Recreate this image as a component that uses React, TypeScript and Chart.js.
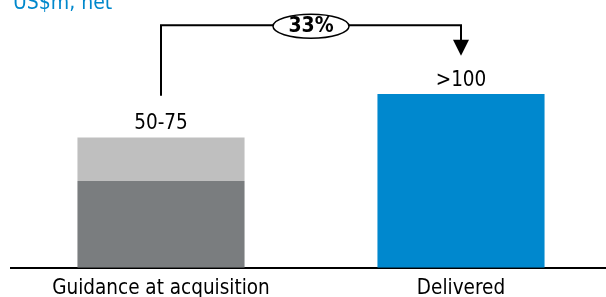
import React, { useEffect, useRef } from "react";
import { Chart, registerables } from "chart.js";

Chart.register(...registerables);

// ---- data ----
const categories = ["Guidance at acquisition", "Delivered"];
const baseValues = [50, 100];
const rangeValues = [25, 0];
const valueLabels = ["50-75", ">100"];
const changeLabel = "33%";
const titleText = "US$m, net";

// connector levels (in data units of the y scale)
const connectorLevel = 139.5;
const connectorStartLevel = 99;
const arrowTipLevel = 122;

const FONT = "'DejaVu Sans Condensed', 'DejaVu Sans', Verdana, sans-serif";
const BLUE = "#0088CE";
const DARK_GREY = "#7A7D7F";
const LIGHT_GREY = "#BFBFBF";

const overlayPlugin = {
  id: "overlay",
  afterDraw(chart: any) {
    const { ctx } = chart;
    const xs = chart.scales.x;
    const ys = chart.scales.y;
    ctx.save();

    // title
    ctx.fillStyle = "#0088CC";
    ctx.font = `21px ${FONT}`;
    ctx.textAlign = "left";
    ctx.textBaseline = "alphabetic";
    ctx.fillText(titleText, 13, 9);

    // value labels
    ctx.fillStyle = "#000";
    ctx.font = `20.5px ${FONT}`;
    ctx.textAlign = "center";
    for (let i = 0; i < categories.length; i++) {
      const total = baseValues[i] + rangeValues[i];
      const x = xs.getPixelForValue(i);
      const y = ys.getPixelForValue(total);
      ctx.fillText(valueLabels[i], x, y - 8);
    }

    // connector
    const x0 = xs.getPixelForValue(0);
    const x1 = xs.getPixelForValue(1);
    const yTop = ys.getPixelForValue(connectorLevel);
    const yStart = ys.getPixelForValue(connectorStartLevel);
    const yTip = ys.getPixelForValue(arrowTipLevel);
    const headH = 16;
    const headW = 8;
    ctx.strokeStyle = "#000";
    ctx.lineWidth = 2;
    ctx.beginPath();
    ctx.moveTo(x0, yStart);
    ctx.lineTo(x0, yTop);
    ctx.lineTo(x1, yTop);
    ctx.lineTo(x1, yTip - headH + 1);
    ctx.stroke();
    ctx.fillStyle = "#000";
    ctx.beginPath();
    ctx.moveTo(x1 - headW, yTip - headH);
    ctx.lineTo(x1 + headW, yTip - headH);
    ctx.lineTo(x1, yTip);
    ctx.closePath();
    ctx.fill();

    // ellipse with percentage
    const cx = (x0 + x1) / 2;
    ctx.beginPath();
    ctx.ellipse(cx, yTop + 1, 38, 12, 0, 0, Math.PI * 2);
    ctx.fillStyle = "#fff";
    ctx.fill();
    ctx.lineWidth = 1.5;
    ctx.stroke();
    ctx.fillStyle = "#000";
    ctx.font = `bold 21px ${FONT}`;
    ctx.textAlign = "center";
    ctx.textBaseline = "middle";
    ctx.fillText(changeLabel, cx, yTop + 1);

    ctx.restore();
  },
};

export default function App() {
  const ref = useRef<HTMLCanvasElement | null>(null);

  useEffect(() => {
    document.body.style.margin = "0";
    document.body.style.overflow = "hidden";
    if (!ref.current) return;
    const chart = new Chart(ref.current, {
      type: "bar",
      data: {
        labels: categories,
        datasets: [
          {
            label: "Base",
            data: baseValues,
            backgroundColor: [DARK_GREY, BLUE],
            borderWidth: 0,
            barPercentage: 0.557,
            categoryPercentage: 1,
          },
          {
            label: "Range",
            data: rangeValues,
            backgroundColor: LIGHT_GREY,
            borderWidth: 0,
            barPercentage: 0.557,
            categoryPercentage: 1,
          },
        ],
      },
      options: {
        responsive: false,
        animation: false,
        devicePixelRatio: 1,
        layout: { padding: { left: 11, right: 1, top: 0, bottom: 0 } },
        plugins: {
          legend: { display: false },
          tooltip: { enabled: false },
          title: { display: false },
        },
        scales: {
          x: {
            stacked: true,
            grid: { display: false, drawTicks: false },
            border: { display: true, color: "#000", width: 2 },
            ticks: {
              color: "#000",
              font: { family: FONT, size: 20.5, lineHeight: 1.08 },
              padding: 10,
              maxRotation: 0,
              autoSkip: false,
            },
          },
          y: {
            stacked: true,
            display: false,
            min: 0,
            max: 154,
          },
        },
      },
      plugins: [overlayPlugin],
    });
    return () => chart.destroy();
  }, []);

  return (
    <div style={{ width: 606, height: 297, overflow: "hidden", position: "relative" }}>
      <canvas ref={ref} width={612} height={310} style={{ display: "block" }} />
    </div>
  );
}
